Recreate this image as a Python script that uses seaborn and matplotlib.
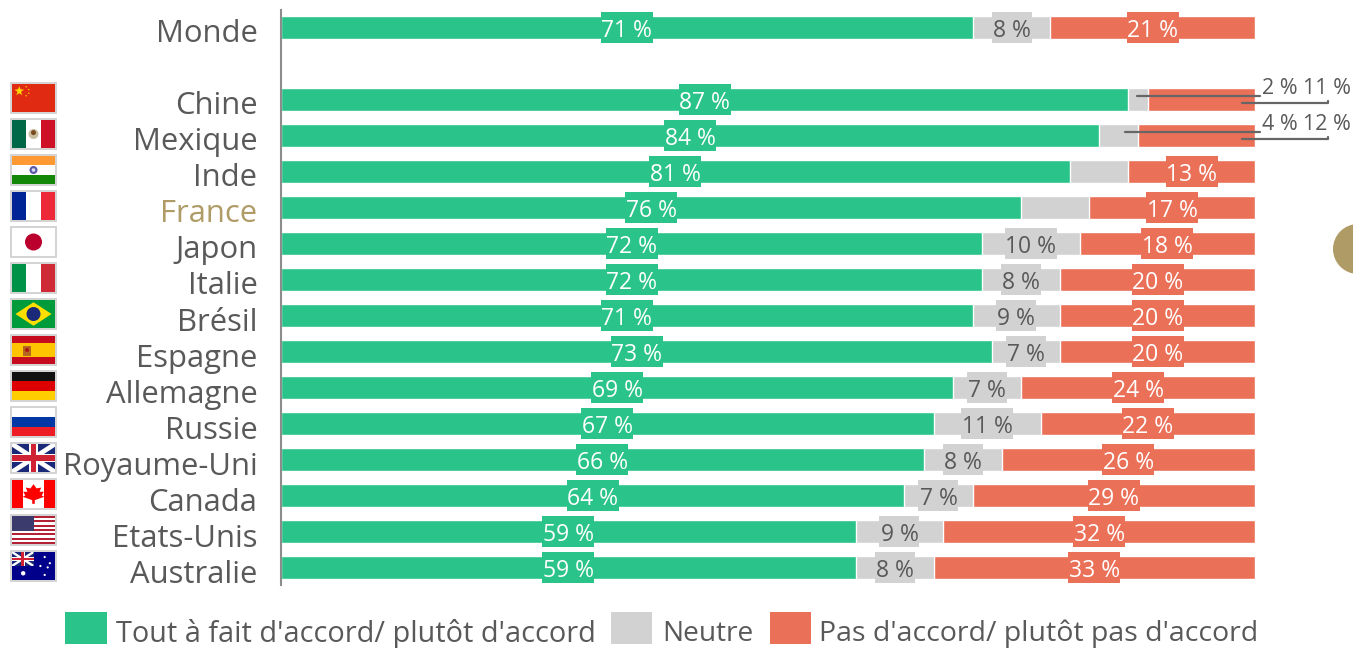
import numpy as np
import pandas as pd
import matplotlib.pyplot as plt
from matplotlib.patches import Rectangle, Circle, Polygon
from matplotlib.transforms import ScaledTranslation
import seaborn as sns

countries = ['Monde', ' ', 'Chine', 'Mexique', 'Inde', 'France', 'Japon', 'Italie', 'Brésil', 'Espagne',
             'Allemagne', 'Russie', 'Royaume-Uni', 'Canada', 'Etats-Unis', 'Australie']
accord = [71, np.nan, 87, 84, 81, 76, 72, 72, 71, 73, 69, 67, 66, 64, 59, 59]
neutre = [8, np.nan, 2, 4, 6, 7, 10, 8, 9, 7, 7, 11, 8, 7, 9, 8]
pas_accord = [21, np.nan, 11, 12, 13, 17, 18, 20, 20, 20, 24, 22, 26, 29, 32, 33]
legend_labels = ["Tout à fait d'accord/ plutôt d'accord", 'Neutre', "Pas d'accord/ plutôt pas d'accord"]
no_grey_tag = ['Chine', 'Mexique', 'Inde', 'France']

GREEN = '#2AC48A'
GREY = '#D2D2D2'
RED = '#EB7058'
GOLD = '#AF9B66'
TEXT = '#595959'

sns.set_theme(style='white')
plt.rcParams['font.family'] = ['Open Sans', 'DejaVu Sans']

df = pd.DataFrame({'pays': countries, 'accord': accord, 'neutre': neutre, 'pas': pas_accord})
df['c1'] = df['accord']
df['c2'] = df['accord'] + df['neutre']
df['c3'] = df['c2'] + df['pas']

fig = plt.figure(figsize=(13.53, 6.48), dpi=100)
W, H = 1353, 648
ax = fig.add_axes([281 / W, 1 - 585 / H, 974 / W, 575 / H])

# stacked by overdrawing the cumulated totals
for col, color in [('c3', RED), ('c2', GREY), ('c1', GREEN)]:
    sns.barplot(data=df, y='pays', x=col, color=color, width=22.5 / 36, saturation=1, ax=ax, order=countries)

ax.set_xlim(0, 100)
ax.set_ylim(15.485, -0.485)
ax.set_xlabel('')
ax.set_ylabel('')
ax.xaxis.set_visible(False)
sns.despine(ax=ax, top=True, right=True, bottom=True)
ax.spines['left'].set_color('#8C8C8C')
ax.spines['left'].set_linewidth(1.5)
ax.tick_params(axis='y', length=0, pad=17, labelsize=22.3, labelcolor=TEXT)
offset = ScaledTranslation(0, -3.5 / 100, fig.dpi_scale_trans)
for lab in ax.get_yticklabels():
    lab.set_transform(lab.get_transform() + offset)
    if lab.get_text() == 'France':
        lab.set_color(GOLD)


def tag(x, row, value, bg, fg):
    # box is 40 px wide for one digit, 52 px for two
    half = (26 if value >= 10 else 20) / 9.74
    ax.add_patch(Rectangle((x - half, row - 0.43), 2 * half, 0.86, color=bg, lw=0, zorder=5))
    ax.text(x, row + 0.11, f'{value:.0f} %', ha='center', va='center', fontsize=16.5, color=fg, zorder=6)


for i, r in df.iterrows():
    if np.isnan(r['accord']):
        continue
    tag(r['c1'] / 2, i, r['accord'], GREEN, 'white')
    if r['pays'] not in no_grey_tag:
        tag((r['c1'] + r['c2']) / 2, i, r['neutre'], GREY, TEXT)
    if r['pays'] not in ('Chine', 'Mexique'):
        tag((r['c2'] + 100) / 2, i, r['pas'], RED, 'white')

# overlay in pixels for flags, leaders, legend
ov = fig.add_axes([0, 0, 1, 1], zorder=10)
ov.set_xlim(0, W)
ov.set_ylim(H, 0)
ov.axis('off')

for i, start in [(2, 1137), (3, 1125)]:
    y = 28 + 36 * i
    a = df.loc[i]
    ov.plot([start, 1260], [y - 4, y - 4], color='#666666', lw=1.6)
    ov.plot([1242, 1328, 1328], [y + 3, y + 3, y + 1], color='#666666', lw=1.6)
    ov.text(1262, y - 11, f"{a['neutre']:.0f} %", fontsize=15.5, color=TEXT, va='center')
    ov.text(1351, y - 11, f"{a['pas']:.0f} %", fontsize=15.5, color=TEXT, va='center', ha='right')

ov.add_patch(Circle((1358, 249), 25, color=GOLD, lw=0, clip_on=True))

# legend
for x0, x1, color, tx, txt, fs in [(65, 107, GREEN, 116, legend_labels[0], 20.8),
                                   (611, 652, GREY, 662, legend_labels[1], 20.2),
                                   (770, 811, RED, 819, legend_labels[2], 20.5)]:
    ov.add_patch(Rectangle((x0, 612), x1 - x0, 32, color=color, lw=0))
    ov.text(tx, 634, txt, fontsize=fs, color=TEXT, va='center')


# flags: u, v in 0..1 inside the flag
def flag_tools(row):
    top = 84 + 36 * (row - 2)
    x0, w, h = 12, 43, 28

    def rect(u0, v0, u1, v1, c):
        ov.add_patch(Rectangle((x0 + u0 * w, top + v0 * h), (u1 - u0) * w, (v1 - v0) * h, color=c, lw=0))

    def poly(pts, c):
        ov.add_patch(Polygon([(x0 + u * w, top + v * h) for u, v in pts], color=c, lw=0))

    def dot(u, v, r, c):
        ov.add_patch(Circle((x0 + u * w, top + v * h), r, color=c, lw=0))

    ov.add_patch(Rectangle((x0 - 2, top - 2), w + 4, h + 4, color='#D4D4D4', lw=0))
    rect(0, 0, 1, 1, 'white')
    return rect, poly, dot


def tricolor_v(row, a, b, c):
    rect, poly, dot = flag_tools(row)
    rect(0, 0, 1 / 3, 1, a)
    rect(1 / 3, 0, 2 / 3, 1, b)
    rect(2 / 3, 0, 1, 1, c)
    return rect, poly, dot


def tricolor_h(row, a, b, c):
    rect, poly, dot = flag_tools(row)
    rect(0, 0, 1, 1 / 3, a)
    rect(0, 1 / 3, 1, 2 / 3, b)
    rect(0, 2 / 3, 1, 1, c)
    return rect, poly, dot


def union_jack(rect, poly, u1, v1):
    rect(0, 0, u1, v1, '#1B2A78')
    du, dv = u1 * 0.1, v1 * 0.1
    poly([(0, 0), (du, 0), (u1, v1 - dv), (u1, v1), (u1 - du, v1), (0, dv)], 'white')
    poly([(u1, 0), (u1 - du, 0), (0, v1 - dv), (0, v1), (du, v1), (u1, dv)], 'white')
    rect(u1 * 0.4, 0, u1 * 0.6, v1, 'white')
    rect(0, v1 * 0.35, u1, v1 * 0.65, 'white')
    rect(u1 * 0.44, 0, u1 * 0.56, v1, '#CF2234')
    rect(0, v1 * 0.4, u1, v1 * 0.6, '#CF2234')


# Chine
rect, poly, dot = flag_tools(2)
rect(0, 0, 1, 1, '#E02B12')
poly([(0.17, 0.08), (0.2, 0.19), (0.28, 0.2), (0.21, 0.28), (0.24, 0.4), (0.17, 0.33), (0.1, 0.4), (0.13, 0.28),
      (0.06, 0.2), (0.14, 0.19)], '#FFD800')
for u, v in [(0.33, 0.1), (0.39, 0.2), (0.39, 0.33), (0.33, 0.42)]:
    dot(u, v, 0.7, '#FFD800')
# Mexique
rect, poly, dot = tricolor_v(3, '#006847', 'white', '#CE1126')
dot(0.5, 0.5, 5, '#C9BFA0')
dot(0.5, 0.45, 2.5, '#7A4A20')
# Inde
rect, poly, dot = tricolor_h(4, '#FF9933', 'white', '#138808')
dot(0.5, 0.5, 4, '#5A5AAA')
dot(0.5, 0.5, 1.8, '#DDDDF0')
# France
tricolor_v(5, '#002395', 'white', '#ED2939')
# Japon
rect, poly, dot = flag_tools(6)
dot(0.5, 0.5, 8.5, '#BC002D')
# Italie
tricolor_v(7, '#009246', 'white', '#CE2B37')
# Brésil
rect, poly, dot = flag_tools(8)
rect(0, 0, 1, 1, '#009B3A')
poly([(0.08, 0.5), (0.5, 0.08), (0.92, 0.5), (0.5, 0.92)], '#FEDF00')
dot(0.5, 0.5, 7, '#1B2A78')
# Espagne
rect, poly, dot = flag_tools(9)
rect(0, 0, 1, 1, '#C60B1E')
rect(0, 0.25, 1, 0.75, '#FFC400')
rect(0.25, 0.36, 0.45, 0.7, '#B5651D')
dot(0.35, 0.5, 2, '#AD1519')
# Allemagne
tricolor_h(10, '#111111', '#DD0000', '#FFCE00')
# Russie
tricolor_h(11, 'white', '#0039A6', '#EE1C25')
# Royaume-Uni
rect, poly, dot = flag_tools(12)
union_jack(rect, poly, 1, 1)
# Canada
rect, poly, dot = flag_tools(13)
rect(0, 0, 0.25, 1, '#FF0000')
rect(0.75, 0, 1, 1, '#FF0000')
poly([(0.5, 0.15), (0.57, 0.3), (0.68, 0.27), (0.64, 0.42), (0.74, 0.42), (0.69, 0.55), (0.75, 0.6), (0.53, 0.72),
      (0.53, 0.85), (0.47, 0.85), (0.47, 0.72), (0.25, 0.6), (0.31, 0.55), (0.26, 0.42), (0.36, 0.42),
      (0.32, 0.27), (0.43, 0.3)], '#FF0000')
# Etats-Unis
rect, poly, dot = flag_tools(14)
for k in range(0, 13, 2):
    rect(0, k / 13, 1, (k + 1) / 13, '#B22234')
rect(0, 0, 0.5, 7 / 13, '#3C3B6E')
# Australie
rect, poly, dot = flag_tools(15)
rect(0, 0, 1, 1, '#00008B')
union_jack(rect, poly, 0.5, 0.5)
dot(0.26, 0.76, 2.2, 'white')
for u, v in [(0.76, 0.18), (0.66, 0.5), (0.88, 0.4), (0.76, 0.82), (0.83, 0.55)]:
    dot(u, v, 1.1, 'white')

fig.savefig('out.png', dpi=100)
